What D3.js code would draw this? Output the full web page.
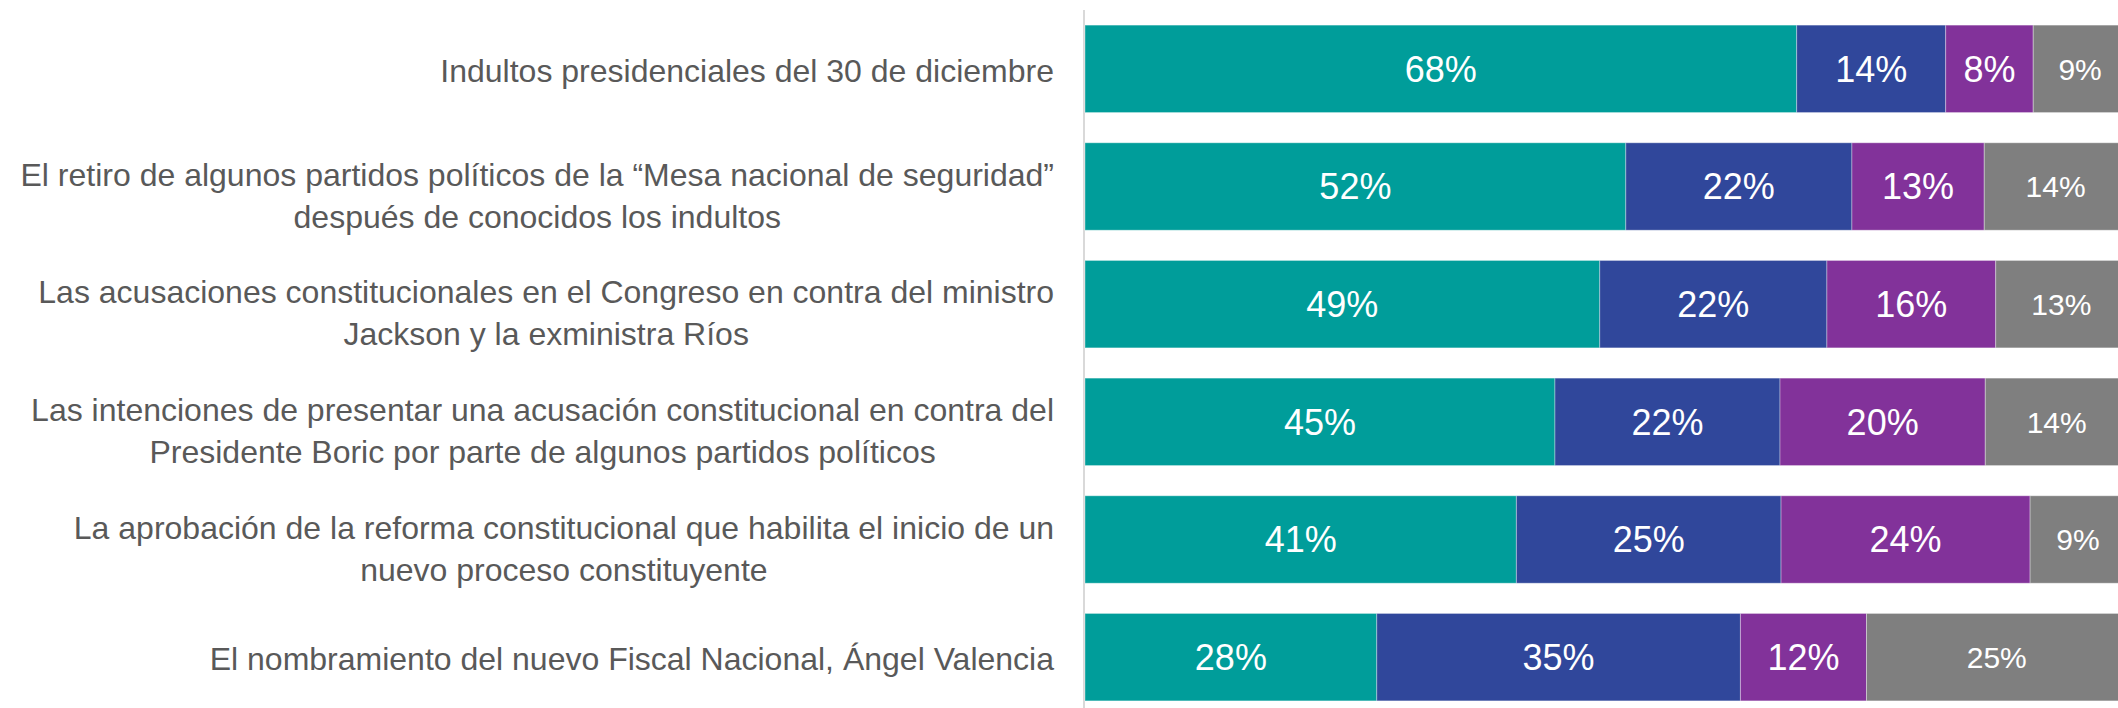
<!DOCTYPE html>
<html>
<head>
<meta charset="utf-8">
<script src="https://cdn.jsdelivr.net/npm/d3@7"></script>
<style>
  body { margin: 0; background: #fff; }
  svg { display: block; font-family: "Liberation Sans", Arial, sans-serif; }
</style>
</head>
<body>
<script>
const WIDTH = 2118;
const HEIGHT = 708;

const X0 = 1085;          // left edge of the bars / axis line
const PX_PER_PCT = 10.42; // width of 1%
const LABEL_RIGHT = 1054; // right edge of category labels

// rows, top to bottom
var categories = [
  "Indultos presidenciales del 30 de diciembre",
  "El retiro de algunos partidos políticos de la “Mesa nacional de seguridad” después de conocidos los indultos",
  "Las acusaciones constitucionales en el Congreso en contra del ministro Jackson y la exministra Ríos",
  "Las intenciones de presentar una acusación constitucional en contra del Presidente Boric por parte de algunos partidos políticos",
  "La aprobación de la reforma constitucional que habilita el inicio de un nuevo proceso constituyente",
  "El nombramiento del nuevo Fiscal Nacional, Ángel Valencia"
];
var labelLines = [
  ["Indultos presidenciales del 30 de diciembre"],
  ["El retiro de algunos partidos políticos de la “Mesa nacional de seguridad”", "después de conocidos los indultos"],
  ["Las acusaciones constitucionales en el Congreso en contra del ministro", "Jackson y la exministra Ríos"],
  ["Las intenciones de presentar una acusación constitucional en contra del", "Presidente Boric por parte de algunos partidos políticos"],
  ["La aprobación de la reforma constitucional que habilita el inicio de un", "nuevo proceso constituyente"],
  ["El nombramiento del nuevo Fiscal Nacional, Ángel Valencia"]
];

// values (labels show them rounded)
var seriesKeys = ["s1", "s2", "s3", "s4"];
var s1 = [68.3, 51.9, 49.4, 45.1, 41.4, 28.0];
var s2 = [14.3, 21.7, 21.8, 21.6, 25.4, 34.9];
var s3 = [8.4, 12.7, 16.2, 19.7, 23.9, 12.1];
var s4 = [9.0, 13.7, 12.6, 13.7, 9.2, 25.0];
var colors = ["#009d9a", "#30479b", "#82329a", "#7f7f7f"];

var table = categories.map(function(c, i) {
  return {cat: c, s1: s1[i], s2: s2[i], s3: s3[i], s4: s4[i]};
});
var stacked = d3.stack().keys(seriesKeys)(table);

var svg = d3.select("body").append("svg")
  .attr("width", WIDTH).attr("height", HEIGHT);

var x = d3.scaleLinear().domain([0, 100]).range([X0, X0 + 100 * PX_PER_PCT]);
var y = d3.scaleBand().domain(categories).range([10, 716])
  .paddingInner(0.257).paddingOuter(0.1285);

// axis line
svg.append("line")
  .attr("x1", X0 - 1).attr("x2", X0 - 1)
  .attr("y1", 10).attr("y2", HEIGHT)
  .attr("stroke", "#d9d9d9").attr("stroke-width", 2);

// bars
var layer = svg.append("g").selectAll("g")
  .data(stacked).enter().append("g")
  .attr("fill", function(d, i) { return colors[i]; });

layer.selectAll("rect")
  .data(function(d) { return d; })
  .enter().append("rect")
  .attr("x", function(d) { return x(d[0]); })
  .attr("y", function(d) { return y(d.data.cat); })
  .attr("width", function(d) { return x(d[1]) - x(d[0]); })
  .attr("height", y.bandwidth())
  .attr("stroke", "#fff").attr("stroke-opacity", 0.35).attr("stroke-width", 1);

// value labels
var fmt = function(v) { return Math.round(v) + "%"; };
layer.each(function(series, si) {
  d3.select(this).selectAll("text")
    .data(series)
    .enter().append("text")
    .attr("x", function(d) { return (x(d[0]) + x(d[1])) / 2; })
    .attr("y", function(d) { return y(d.data.cat) + y.bandwidth() / 2; })
    .attr("dy", "0.36em")
    .attr("text-anchor", "middle")
    .attr("fill", "#fff")
    .attr("font-size", si == 3 ? 30 : 36)
    .text(function(d) { return fmt(d[1] - d[0]); });
});

// category labels, block right aligned, lines centred
var labels = svg.append("g").selectAll("text")
  .data(categories).enter().append("text")
  .attr("fill", "#595959")
  .attr("font-size", 32)
  .attr("text-anchor", "middle");

labels.each(function(c, i) {
  var t = d3.select(this);
  var lines = labelLines[i];
  var lh = 42;
  // two-line labels sit a little below the bar centre, like the original
  var cy = y(c) + y.bandwidth() / 2 + (lines.length > 1 ? 9 : 2);
  lines.forEach(function(line, j) {
    t.append("tspan")
      .attr("y", cy + (j - (lines.length - 1) / 2) * lh)
      .attr("dy", "0.35em")
      .text(line);
  });
  var w = 0;
  t.selectAll("tspan").each(function() {
    w = Math.max(w, this.getComputedTextLength());
  });
  t.selectAll("tspan").attr("x", LABEL_RIGHT - w / 2);
});
</script>
</body>
</html>
